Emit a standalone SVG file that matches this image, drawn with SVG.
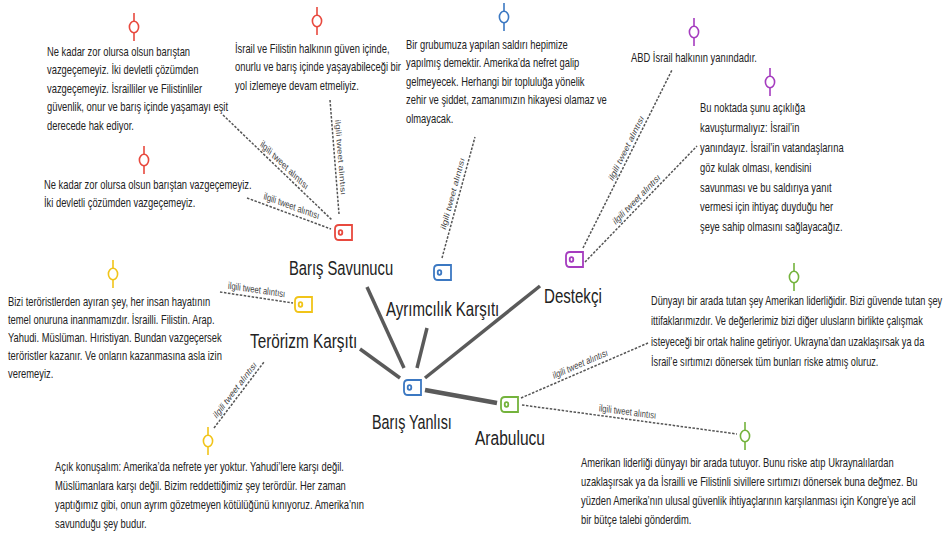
<svg xmlns="http://www.w3.org/2000/svg" xmlns:xlink="http://www.w3.org/1999/xlink" width="947" height="539" viewBox="0 0 947 539">
<style>
.t{font-family:"Liberation Sans",Arial,sans-serif;font-size:12.5px;fill:#222}
.lb{font-family:"Liberation Sans",Arial,sans-serif;font-size:19.5px;fill:#222}
.el{font-family:"Liberation Sans",Arial,sans-serif;font-size:10px;fill:#444;text-anchor:middle}
.solid{stroke:#5a5a5a;stroke-width:3.5;fill:none}
.dash{stroke:#555;stroke-width:1.5;stroke-dasharray:2.5 1.5;fill:none}
.red{stroke:#e8493e}.blue{stroke:#3b78c2}.purple{stroke:#a53cbf}.yellow{stroke:#f1c419}.green{stroke:#74b33c}
</style>
<defs>
<g id="tag" fill="#fff" stroke-width="1.8"><path d="M4,0 H17 V15 H4 Q0,15 0,11 V4 Q0,0 4,0 Z"/><ellipse cx="5.5" cy="7.5" rx="1.8" ry="2.3"/></g>
<g id="pin" stroke-width="1.6"><line x1="0" y1="-14" x2="0" y2="14"/><ellipse rx="4.6" ry="5.7" fill="#fff"/></g>
</defs>
<rect width="947" height="539" fill="#fff"/>

<g id="connectors">
<line class="solid" x1="367" y1="287" x2="404" y2="368"/>
<line class="solid" x1="360" y1="349" x2="400" y2="378"/>
<line class="solid" x1="427" y1="328" x2="417" y2="368"/>
<line class="solid" x1="540" y1="286" x2="425" y2="378"/>
<line class="solid" x1="425" y1="390" x2="497" y2="403" style="stroke-width:4.5"/>
<line class="dash" x1="223" y1="115" x2="332" y2="220"/>
<line class="dash" x1="247" y1="198" x2="331" y2="229"/>
<line class="dash" x1="330" y1="100" x2="339" y2="214"/>
<line class="dash" x1="442" y1="258" x2="475" y2="137"/>
<line class="dash" x1="583" y1="248" x2="672" y2="70"/>
<line class="dash" x1="585" y1="262" x2="697" y2="146"/>
<line class="dash" x1="220" y1="292" x2="293" y2="303"/>
<line class="dash" x1="214" y1="428" x2="264" y2="362"/>
<line class="dash" x1="521" y1="398" x2="648" y2="343"/>
<line class="dash" x1="522" y1="405" x2="737" y2="434"/>
<text class="el" transform="translate(281 171) scale(0.76 1) rotate(36.2)" y="-4">ilgili tweet alıntısı</text>
<text class="el" transform="translate(290 213) scale(0.76 1) rotate(15.7)" y="-4">ilgili tweet alıntısı</text>
<text class="el" transform="translate(335 158) scale(0.76 1) rotate(84.1)" y="-4">ilgili tweet alıntısı</text>
<text class="el" transform="translate(458 196) scale(0.76 1) rotate(-70.3)" y="-4">ilgili tweet alıntısı</text>
<text class="el" transform="translate(631 152) scale(0.76 1) rotate(-56.7)" y="-4">ilgili tweet alıntısı</text>
<text class="el" transform="translate(640 205) scale(0.76 1) rotate(-38.2)" y="-4">ilgili tweet alıntısı</text>
<text class="el" transform="translate(256 297) scale(0.76 1) rotate(6.5)" y="-4">ilgili tweet alıntısı</text>
<text class="el" transform="translate(239 395) scale(0.76 1) rotate(-45.1)" y="-4">ilgili tweet alıntısı</text>
<text class="el" transform="translate(582 371) scale(0.76 1) rotate(-18.2)" y="-4">ilgili tweet alıntısı</text>
<text class="el" transform="translate(627 419) scale(0.76 1) rotate(5.85)" y="-4">ilgili tweet alıntısı</text>
</g>

<g id="node-baris-yanlisi">
<use xlink:href="#tag" href="#tag" class="blue" x="404" y="380"/>
<text class="lb" transform="translate(372 0) scale(0.76 1)" x="0" y="429" textLength="105" lengthAdjust="spacingAndGlyphs">Barış Yanlısı</text>
</g>
<g id="node-baris-savunucu">
<use xlink:href="#tag" href="#tag" class="red" x="335" y="225"/>
<text class="lb" transform="translate(289 0) scale(0.76 1)" x="0" y="275" textLength="137" lengthAdjust="spacingAndGlyphs">Barış Savunucu</text>
</g>
<g id="node-ayrimcilik-karsiti">
<use xlink:href="#tag" href="#tag" class="blue" x="434" y="265"/>
<text class="lb" transform="translate(386 0) scale(0.76 1)" x="0" y="316" textLength="149" lengthAdjust="spacingAndGlyphs">Ayrımcılık Karşıtı</text>
</g>
<g id="node-destekci">
<use xlink:href="#tag" href="#tag" class="purple" x="566" y="252"/>
<text class="lb" transform="translate(544 0) scale(0.76 1)" x="0" y="303" textLength="76" lengthAdjust="spacingAndGlyphs">Destekçi</text>
</g>
<g id="node-terorizm-karsiti">
<use xlink:href="#tag" href="#tag" class="yellow" x="295" y="297"/>
<text class="lb" transform="translate(250 0) scale(0.76 1)" x="0" y="348" textLength="141" lengthAdjust="spacingAndGlyphs">Terörizm Karşıtı</text>
</g>
<g id="node-arabulucu">
<use xlink:href="#tag" href="#tag" class="green" x="501" y="397"/>
<text class="lb" transform="translate(475 0) scale(0.76 1)" x="0" y="445" textLength="92" lengthAdjust="spacingAndGlyphs">Arabulucu</text>
</g>

<g id="quote-red-1">
<use xlink:href="#pin" href="#pin" class="red" x="134" y="27"/>
<text class="t" transform="translate(47 0) scale(0.75 1)"><tspan x="0" y="56">Ne kadar zor olursa olsun barıştan</tspan><tspan x="0" y="74.5">vazgeçemeyiz. İki devletli çözümden</tspan><tspan x="0" y="93">vazgeçemeyiz. İsrailliler ve Filistinliler</tspan><tspan x="0" y="111.5">güvenlik, onur ve barış içinde yaşamayı eşit</tspan><tspan x="0" y="130">derecede hak ediyor.</tspan></text>
</g>
<g id="quote-red-2">
<use xlink:href="#pin" href="#pin" class="red" x="144" y="160"/>
<text class="t" transform="translate(44 0) scale(0.75 1)"><tspan x="0" y="189">Ne kadar zor olursa olsun barıştan vazgeçemeyiz.</tspan><tspan x="0" y="207.5">İki devletli çözümden vazgeçemeyiz.</tspan></text>
</g>
<g id="quote-red-3">
<use xlink:href="#pin" href="#pin" class="red" x="317" y="21"/>
<text class="t" transform="translate(235 0) scale(0.75 1)"><tspan x="0" y="53">İsrail ve Filistin halkının güven içinde,</tspan><tspan x="0" y="71.5">onurlu ve barış içinde yaşayabileceği bir</tspan><tspan x="0" y="90">yol izlemeye devam etmeliyiz.</tspan></text>
</g>
<g id="quote-blue">
<use xlink:href="#pin" href="#pin" class="blue" x="504" y="17"/>
<text class="t" transform="translate(406 0) scale(0.75 1)"><tspan x="0" y="49">Bir grubumuza yapılan saldırı hepimize</tspan><tspan x="0" y="67.5">yapılmış demektir. Amerika’da nefret galip</tspan><tspan x="0" y="86">gelmeyecek. Herhangi bir topluluğa yönelik</tspan><tspan x="0" y="104.5">zehir ve şiddet, zamanımızın hikayesi olamaz ve</tspan><tspan x="0" y="123">olmayacak.</tspan></text>
</g>
<g id="quote-purple-1">
<use xlink:href="#pin" href="#pin" class="purple" x="694" y="32"/>
<text class="t" transform="translate(631 0) scale(0.75 1)"><tspan x="0" y="62">ABD İsrail halkının yanındadır.</tspan></text>
</g>
<g id="quote-purple-2">
<use xlink:href="#pin" href="#pin" class="purple" x="770" y="82"/>
<text class="t" transform="translate(700 0) scale(0.75 1)"><tspan x="0" y="112">Bu noktada şunu açıklığa</tspan><tspan x="0" y="132">kavuşturmalıyız: İsrail’in</tspan><tspan x="0" y="152">yanındayız. İsrail’in vatandaşlarına</tspan><tspan x="0" y="172">göz kulak olması, kendisini</tspan><tspan x="0" y="192">savunması ve bu saldırıya yanıt</tspan><tspan x="0" y="211.5">vermesi için ihtiyaç duyduğu her</tspan><tspan x="0" y="231">şeye sahip olmasını sağlayacağız.</tspan></text>
</g>
<g id="quote-yellow-1">
<use xlink:href="#pin" href="#pin" class="yellow" x="113" y="274"/>
<text class="t" transform="translate(8 0) scale(0.75 1)"><tspan x="0" y="306">Bizi teröristlerden ayıran şey, her insan hayatının</tspan><tspan x="0" y="324">temel onuruna inanmamızdır. İsrailli. Filistin. Arap.</tspan><tspan x="0" y="342">Yahudi. Müslüman. Hıristiyan. Bundan vazgeçersek</tspan><tspan x="0" y="360">teröristler kazanır. Ve onların kazanmasına asla izin</tspan><tspan x="0" y="378">veremeyiz.</tspan></text>
</g>
<g id="quote-yellow-2">
<use xlink:href="#pin" href="#pin" class="yellow" x="208" y="441"/>
<text class="t" transform="translate(55 0) scale(0.75 1)"><tspan x="0" y="471">Açık konuşalım: Amerika’da nefrete yer yoktur. Yahudi’lere karşı değil.</tspan><tspan x="0" y="490">Müslümanlara karşı değil. Bizim reddettiğimiz şey terördür. Her zaman</tspan><tspan x="0" y="509">yaptığımız gibi, onun ayrım gözetmeyen kötülüğünü kınıyoruz. Amerika’nın</tspan><tspan x="0" y="528">savunduğu şey budur.</tspan></text>
</g>
<g id="quote-green-1">
<use xlink:href="#pin" href="#pin" class="green" x="794" y="277"/>
<text class="t" transform="translate(651 0) scale(0.735 1)"><tspan x="0" y="305">Dünyayı bir arada tutan şey Amerikan liderliğidir. Bizi güvende tutan şey</tspan><tspan x="0" y="325.5">ittifaklarımızdır. Ve değerlerimiz bizi diğer ulusların birlikte çalışmak</tspan><tspan x="0" y="346">isteyeceği bir ortak haline getiriyor. Ukrayna’dan uzaklaşırsak ya da</tspan><tspan x="0" y="366">İsrail’e sırtımızı dönersek tüm bunları riske atmış oluruz.</tspan></text>
</g>
<g id="quote-green-2">
<use xlink:href="#pin" href="#pin" class="green" x="745" y="436"/>
<text class="t" transform="translate(581 0) scale(0.75 1)"><tspan x="0" y="467">Amerikan liderliği dünyayı bir arada tutuyor. Bunu riske atıp Ukraynalılardan</tspan><tspan x="0" y="486">uzaklaşırsak ya da İsrailli ve Filistinli sivillere sırtımızı dönersek buna değmez. Bu</tspan><tspan x="0" y="505">yüzden Amerika’nın ulusal güvenlik ihtiyaçlarının karşılanması için Kongre’ye acil</tspan><tspan x="0" y="524">bir bütçe talebi gönderdim.</tspan></text>
</g>
</svg>
